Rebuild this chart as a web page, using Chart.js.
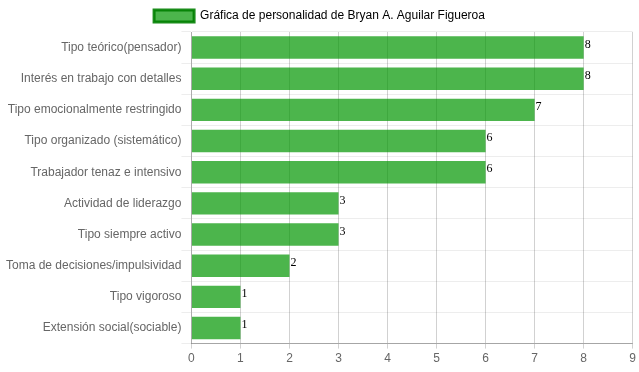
<!DOCTYPE html>
<html>
<head>
<meta charset="utf-8">
<script src="https://cdn.jsdelivr.net/npm/chart.js@4/dist/chart.umd.min.js"></script>
<style>
html,body{margin:0;padding:0;background:#fff;}
#wrap{position:relative;width:639px;height:372px;}
</style>
</head>
<body>
<div id="wrap"><canvas id="c" width="639" height="372"></canvas></div>
<script>
const categories = [
  "Tipo teórico(pensador)",
  "Interés en trabajo con detalles",
  "Tipo emocionalmente restringido",
  "Tipo organizado (sistemático)",
  "Trabajador tenaz e intensivo",
  "Actividad de liderazgo",
  "Tipo siempre activo",
  "Toma de decisiones/impulsividad",
  "Tipo vigoroso",
  "Extensión social(sociable)"
];
const seriesLabel = "Gráfica de personalidad de Bryan A. Aguilar Figueroa";
const values = [8, 8, 7, 6, 6, 3, 3, 2, 1, 1];
const xTicks = [0, 1, 2, 3, 4, 5, 6, 7, 8, 9];

Chart.defaults.font.family = "'Liberation Sans', Arial, Helvetica, sans-serif";
Chart.defaults.font.size = 12;
Chart.defaults.color = "#666";

const valueLabels = {
  id: 'valueLabels',
  afterDatasetsDraw(chart) {
    const ctx = chart.ctx;
    ctx.save();
    ctx.font = "12px 'Liberation Serif', 'Times New Roman', serif";
    ctx.fillStyle = "#000";
    ctx.textAlign = "left";
    ctx.textBaseline = "top";
    const meta = chart.getDatasetMeta(0);
    meta.data.forEach((bar, i) => {
      ctx.fillText(String(chart.data.datasets[0].data[i]), bar.x + 1, bar.y - 9);
    });
    ctx.restore();
  }
};

new Chart(document.getElementById('c'), {
  type: 'bar',
  data: {
    labels: categories,
    datasets: [{
      label: seriesLabel,
      data: values,
      backgroundColor: 'rgba(0,150,0,0.7)',
      borderColor: 'rgba(0,128,0,0.9)',
      borderWidth: 0
    }]
  },
  options: {
    indexAxis: 'y',
    responsive: false,
    animation: false,
    layout: { padding: { left: 6, right: 6, top: 0, bottom: 3 } },
    plugins: {
      legend: {
        display: true,
        labels: {
          boxWidth: 40,
          boxHeight: 12,
          padding: 10,
          color: '#666',
          generateLabels(chart) {
            return [{
              text: seriesLabel,
              fillStyle: 'rgba(0,150,0,0.7)',
              strokeStyle: 'rgba(0,128,0,0.9)',
              lineWidth: 3,
              datasetIndex: 0,
              hidden: false
            }];
          }
        }
      },
      tooltip: { enabled: false }
    },
    scales: {
      x: {
        min: 0,
        max: 9,
        afterBuildTicks(axis) { axis.ticks = xTicks.map(v => ({ value: v })); },
        grid: { color: 'rgba(0,0,0,0.18)', tickLength: 5 },
        border: { color: 'rgba(0,0,0,0.3)' },
        ticks: { padding: 3, color: '#666' }
      },
      y: {
        grid: { color: 'rgba(0,0,0,0.07)', tickLength: 10, offset: true },
        border: { color: 'rgba(0,0,0,0.18)' },
        ticks: { padding: 0, color: '#666' }
      }
    }
  },
  plugins: [valueLabels]
});
</script>
</body>
</html>
